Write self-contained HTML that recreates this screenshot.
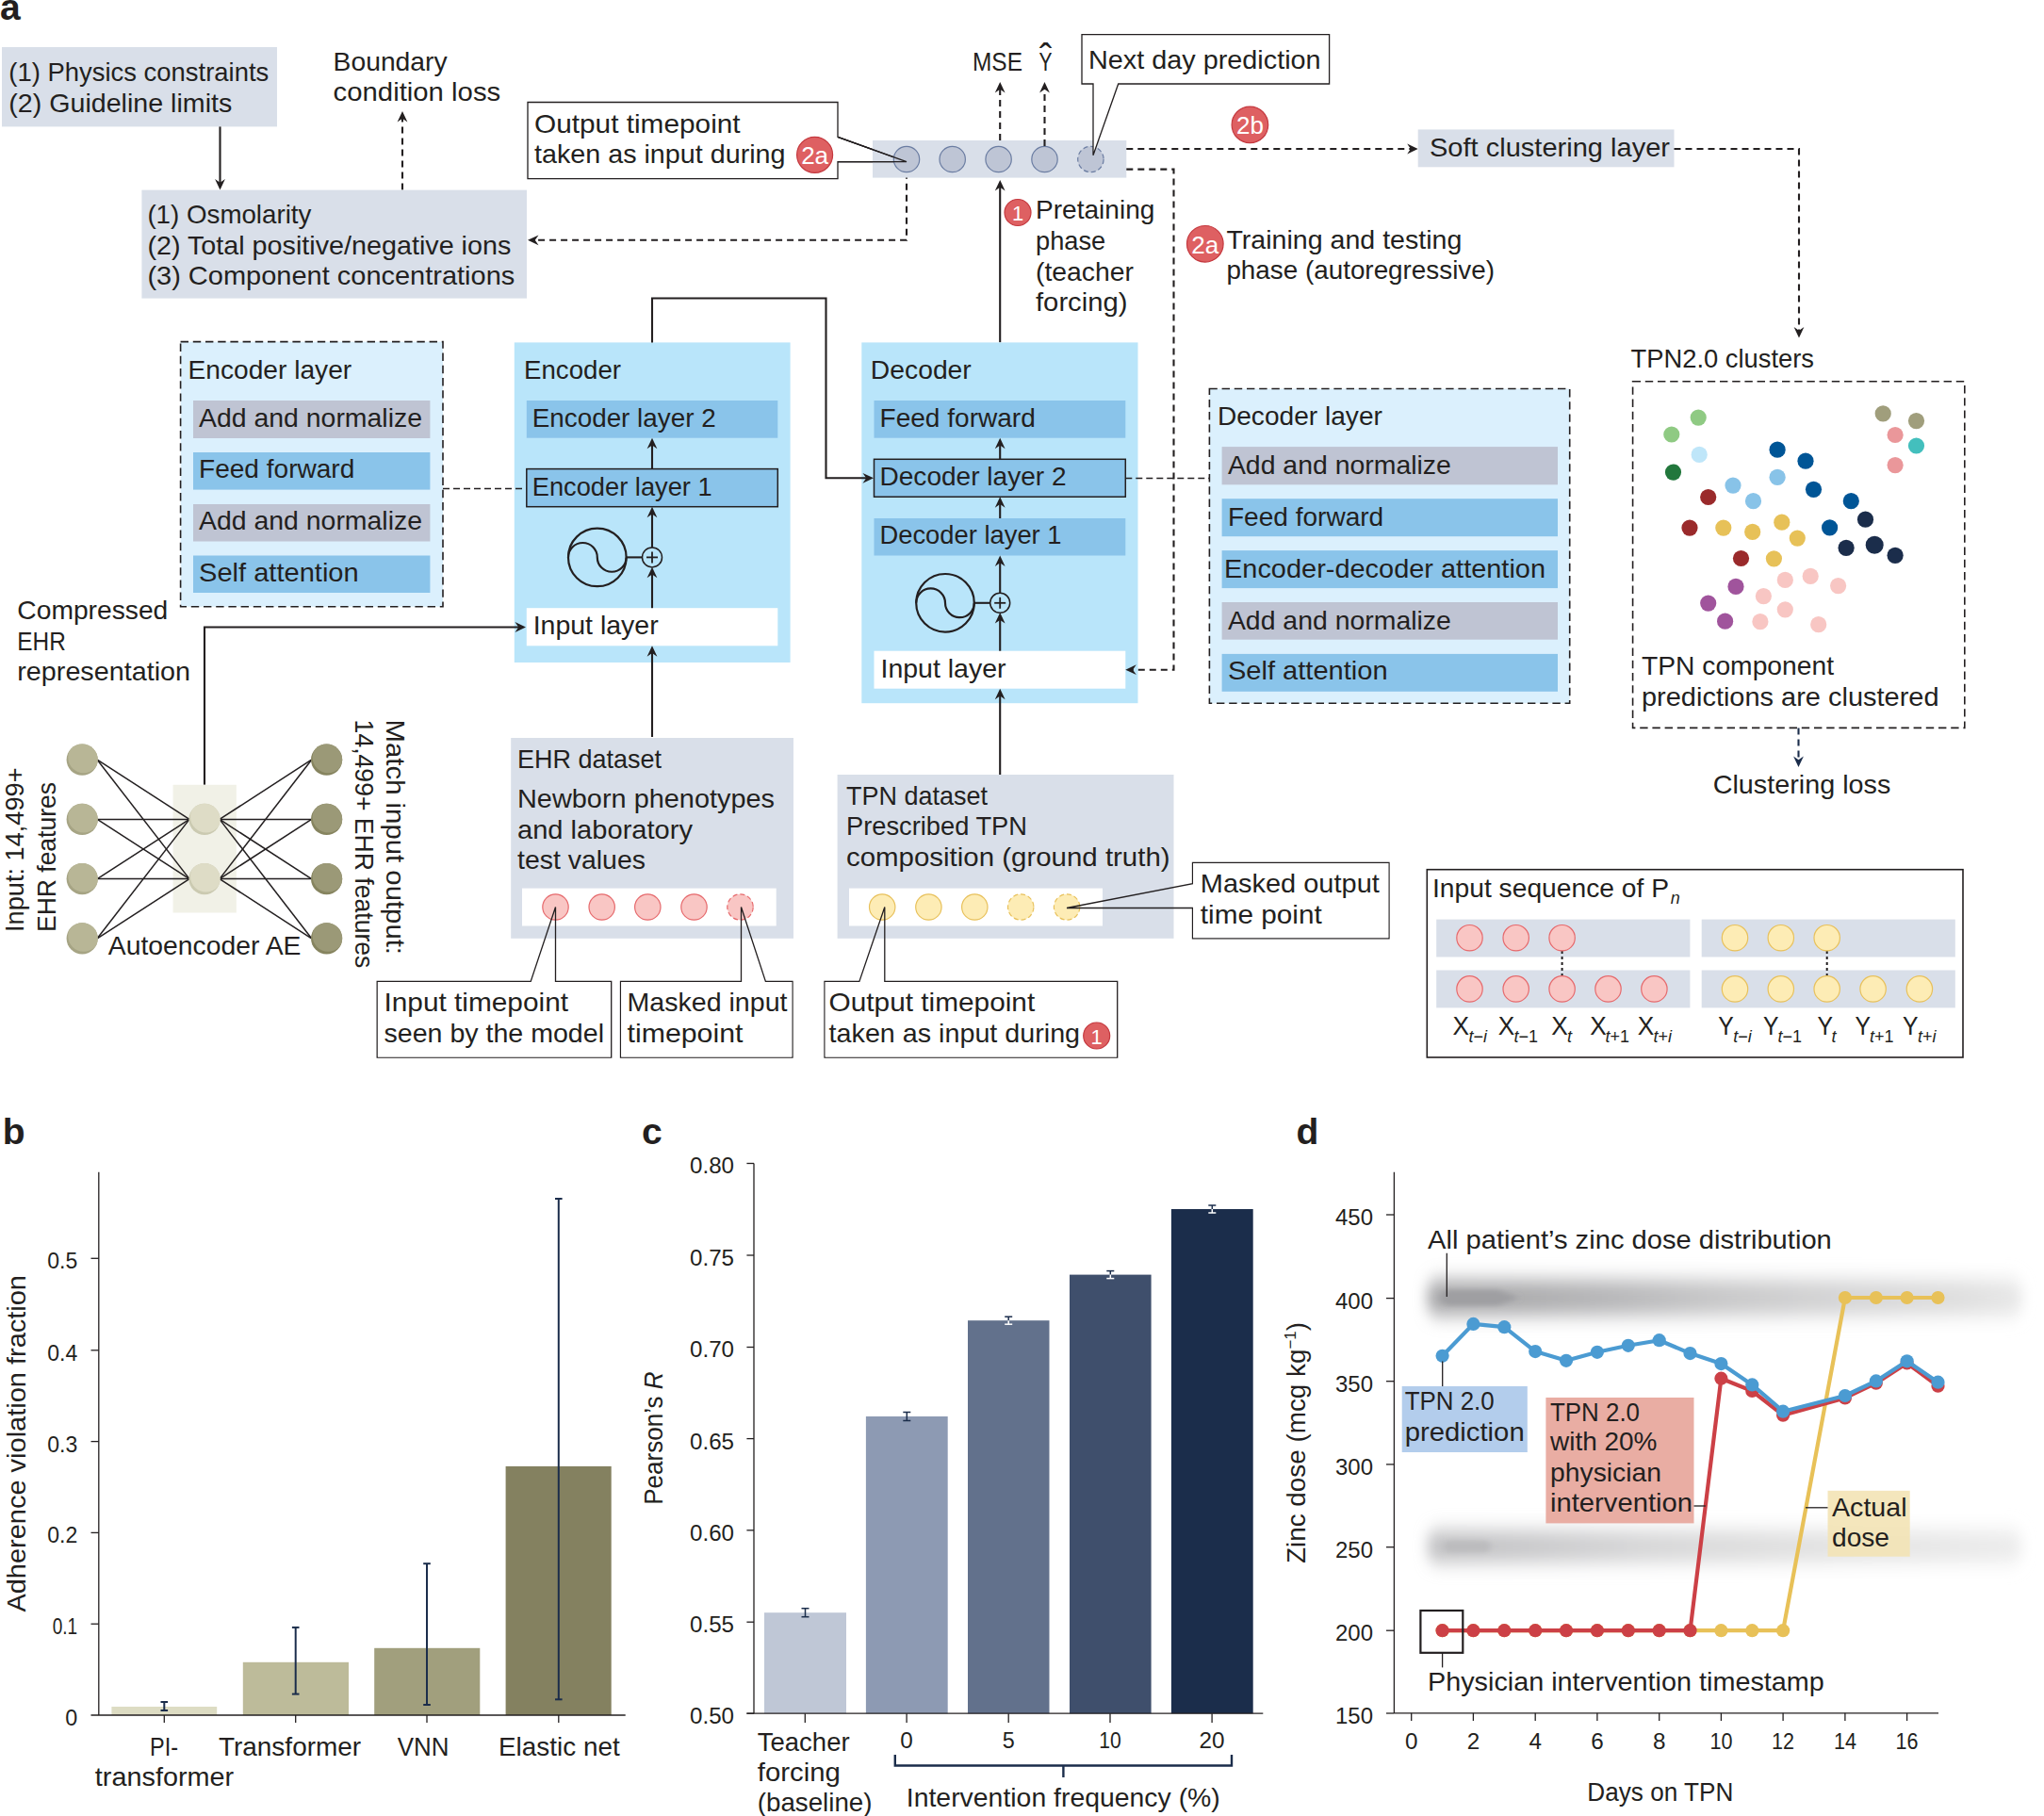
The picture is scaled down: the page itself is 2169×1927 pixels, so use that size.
<!DOCTYPE html>
<html><head><meta charset="utf-8"><title>Figure</title>
<style>
html,body{margin:0;padding:0;background:#fff;}
svg{display:block;}
text{font-family:"Liberation Sans",sans-serif;fill:#231f20;}
</style></head><body>
<svg width="2169" height="1927" viewBox="0 0 2169 1927">
<rect width="2169" height="1927" fill="#ffffff"/>
<text x="0.0" y="21.0" font-size="39" font-weight="bold" >a</text>
<rect x="2.0" y="50.0" width="292.0" height="84.4" fill="#d9dfe9" />
<text x="9.3" y="85.8" font-size="28" textLength="276.0" lengthAdjust="spacingAndGlyphs" >(1) Physics constraints</text>
<text x="9.3" y="118.8" font-size="28" textLength="237.0" lengthAdjust="spacingAndGlyphs" >(2) Guideline limits</text>
<path d="M233.5,134.4 L233.5,195.6" fill="none" stroke="#231f20" stroke-width="2.1" />
<path d="M0,0 L-11.5,-5.4 L-7.8,0 L-11.5,5.4 Z" fill="#231f20" transform="translate(233.5 201.6) rotate(90)"/>
<text x="353.6" y="74.8" font-size="28" textLength="121.0" lengthAdjust="spacingAndGlyphs" >Boundary</text>
<text x="353.6" y="106.8" font-size="28" textLength="177.6" lengthAdjust="spacingAndGlyphs" >condition loss</text>
<path d="M427.0,201.6 L427.0,124.0" fill="none" stroke="#231f20" stroke-width="2.1" stroke-dasharray="7 5" />
<path d="M0,0 L-11.5,-5.4 L-7.8,0 L-11.5,5.4 Z" fill="#231f20" transform="translate(427.0 118.0) rotate(270)"/>
<rect x="150.4" y="201.6" width="408.6" height="115.0" fill="#d9dfe9" />
<text x="156.4" y="236.8" font-size="28" textLength="174.0" lengthAdjust="spacingAndGlyphs" >(1) Osmolarity</text>
<text x="156.4" y="269.8" font-size="28" textLength="385.9" lengthAdjust="spacingAndGlyphs" >(2) Total positive/negative ions</text>
<text x="156.4" y="301.8" font-size="28" textLength="389.9" lengthAdjust="spacingAndGlyphs" >(3) Component concentrations</text>
<path d="M962.0,182.7 L962.0,254.8 L566.0,254.8" fill="none" stroke="#231f20" stroke-width="2.1" stroke-dasharray="7 5" />
<path d="M0,0 L-11.5,-5.4 L-7.8,0 L-11.5,5.4 Z" fill="#231f20" transform="translate(560.0 254.8) rotate(180)"/>
<path d="M560,108.5 H889 V145.4 L962,171.6 L889,171.6 V189.6 H560 Z" fill="#ffffff" stroke="#231f20" stroke-width="1.3"/>
<rect x="926.0" y="149.0" width="269.3" height="39.6" fill="#d9dfe9" />
<path d="M889.0,145.4 L962.0,171.6 L889.0,171.6" fill="none" stroke="#231f20" stroke-width="1.3" />
<text x="567.0" y="140.8" font-size="28" textLength="218.6" lengthAdjust="spacingAndGlyphs" >Output timepoint</text>
<text x="567.0" y="172.8" font-size="28" textLength="266.5" lengthAdjust="spacingAndGlyphs" >taken as input during</text>
<circle cx="864.6" cy="164.3" r="19.0" fill="#de6062" stroke="#c4383e" stroke-width="1.2"/>
<text x="864.6" y="174.2" font-size="26" text-anchor="middle" style="fill:#ffffff" >2a</text>
<circle cx="962.0" cy="169.0" r="13.7" fill="#bec5d5" stroke="#6b7da2" stroke-width="1.2"/>
<circle cx="1010.7" cy="169.0" r="13.7" fill="#bec5d5" stroke="#6b7da2" stroke-width="1.2"/>
<circle cx="1059.6" cy="169.0" r="13.7" fill="#bec5d5" stroke="#6b7da2" stroke-width="1.2"/>
<circle cx="1108.5" cy="169.0" r="13.7" fill="#bec5d5" stroke="#6b7da2" stroke-width="1.2"/>
<circle cx="1157.4" cy="169.0" r="13.7" fill="#bec5d5" stroke="#6b7da2" stroke-width="1.2" stroke-dasharray="5 3"/>
<path d="M889.0,145.4 L962.0,171.6 L889.0,171.6" fill="none" stroke="#231f20" stroke-width="1.3" />
<text x="1032.0" y="74.8" font-size="28" textLength="53.0" lengthAdjust="spacingAndGlyphs" >MSE</text>
<text x="1102.5" y="74.8" font-size="28" textLength="14.0" lengthAdjust="spacingAndGlyphs" >Y</text>
<text x="1109.7" y="75.2" font-size="40" text-anchor="middle" >ˆ</text>
<path d="M1061.2,149.0 L1061.2,93.0" fill="none" stroke="#231f20" stroke-width="2.1" stroke-dasharray="7 5" />
<path d="M0,0 L-11.5,-5.4 L-7.8,0 L-11.5,5.4 Z" fill="#231f20" transform="translate(1061.2 87.0) rotate(270)"/>
<path d="M1108.5,155.0 L1108.5,93.0" fill="none" stroke="#231f20" stroke-width="2.1" stroke-dasharray="7 5" />
<path d="M0,0 L-11.5,-5.4 L-7.8,0 L-11.5,5.4 Z" fill="#231f20" transform="translate(1108.5 87.0) rotate(270)"/>
<path d="M1148,36.6 H1410.6 V89 H1186.7 L1160,164.7 V89 H1148 Z" fill="#ffffff" stroke="#231f20" stroke-width="1.3"/>
<text x="1155.0" y="73.3" font-size="28" textLength="246.6" lengthAdjust="spacingAndGlyphs" >Next day prediction</text>
<circle cx="1326.4" cy="132.4" r="19.3" fill="#de6062" stroke="#c4383e" stroke-width="1.2"/>
<text x="1326.4" y="142.3" font-size="26" text-anchor="middle" style="fill:#ffffff" >2b</text>
<path d="M1195.3,158.0 L1498.7,158.0" fill="none" stroke="#231f20" stroke-width="2.1" stroke-dasharray="7 5" />
<path d="M0,0 L-11.5,-5.4 L-7.8,0 L-11.5,5.4 Z" fill="#231f20" transform="translate(1504.7 158.0) rotate(0)"/>
<rect x="1504.7" y="137.4" width="271.8" height="39.9" fill="#d9dfe9" />
<text x="1517.0" y="165.5" font-size="28" textLength="255.0" lengthAdjust="spacingAndGlyphs" >Soft clustering layer</text>
<path d="M1776.5,158.0 L1909.0,158.0 L1909.0,352.6" fill="none" stroke="#231f20" stroke-width="2.1" stroke-dasharray="7 5" />
<path d="M0,0 L-11.5,-5.4 L-7.8,0 L-11.5,5.4 Z" fill="#231f20" transform="translate(1909.0 358.6) rotate(90)"/>
<path d="M1061.2,363.3 L1061.2,197.0" fill="none" stroke="#231f20" stroke-width="2.1" />
<path d="M0,0 L-11.5,-5.4 L-7.8,0 L-11.5,5.4 Z" fill="#231f20" transform="translate(1061.2 191.0) rotate(270)"/>
<circle cx="1080.0" cy="225.5" r="14.0" fill="#de6062" stroke="#c4383e" stroke-width="1.2"/>
<text x="1080.0" y="234.0" font-size="22" text-anchor="middle" style="fill:#ffffff" >1</text>
<text x="1099.0" y="231.8" font-size="28" textLength="126.4" lengthAdjust="spacingAndGlyphs" >Pretaining</text>
<text x="1099.0" y="265.3" font-size="28" textLength="74.2" lengthAdjust="spacingAndGlyphs" >phase</text>
<text x="1099.0" y="297.5" font-size="28" textLength="104.0" lengthAdjust="spacingAndGlyphs" >(teacher</text>
<text x="1099.0" y="330.1" font-size="28" textLength="97.5" lengthAdjust="spacingAndGlyphs" >forcing)</text>
<circle cx="1278.8" cy="258.8" r="19.3" fill="#de6062" stroke="#c4383e" stroke-width="1.2"/>
<text x="1278.8" y="268.7" font-size="26" text-anchor="middle" style="fill:#ffffff" >2a</text>
<text x="1301.4" y="263.6" font-size="28" textLength="250.0" lengthAdjust="spacingAndGlyphs" >Training and testing</text>
<text x="1301.4" y="296.2" font-size="28" textLength="284.6" lengthAdjust="spacingAndGlyphs" >phase (autoregressive)</text>
<rect x="191.6" y="362.6" width="278.4" height="281.2" fill="#dbf0fd" stroke="#231f20" stroke-width="1.6" stroke-dasharray="8.4 4.8" />
<text x="199.6" y="401.8" font-size="28" textLength="173.6" lengthAdjust="spacingAndGlyphs" >Encoder layer</text>
<rect x="205.0" y="425.0" width="251.4" height="40.0" fill="#bfc4d3" />
<text x="211.0" y="452.5" font-size="28" textLength="237.0" lengthAdjust="spacingAndGlyphs" >Add and normalize</text>
<rect x="205.0" y="480.0" width="251.4" height="39.6" fill="#8ac4ea" />
<text x="211.0" y="507.3" font-size="28" textLength="165.3" lengthAdjust="spacingAndGlyphs" >Feed forward</text>
<rect x="205.0" y="535.0" width="251.4" height="39.5" fill="#bfc4d3" />
<text x="211.0" y="562.3" font-size="28" textLength="237.0" lengthAdjust="spacingAndGlyphs" >Add and normalize</text>
<rect x="205.0" y="589.5" width="251.4" height="39.5" fill="#8ac4ea" />
<text x="211.0" y="617.3" font-size="28" textLength="169.7" lengthAdjust="spacingAndGlyphs" >Self attention</text>
<rect x="545.8" y="363.4" width="292.8" height="339.6" fill="#b9e5fa" />
<text x="556.0" y="401.8" font-size="28" textLength="103.0" lengthAdjust="spacingAndGlyphs" >Encoder</text>
<path d="M470.0,518.5 L558.8,518.5" fill="none" stroke="#231f20" stroke-width="1.3" stroke-dasharray="7 4" />
<rect x="558.8" y="425.0" width="266.5" height="39.7" fill="#8ac4ea" />
<text x="564.7" y="452.5" font-size="28" textLength="195.0" lengthAdjust="spacingAndGlyphs" >Encoder layer 2</text>
<rect x="558.8" y="497.6" width="266.5" height="40.1" fill="#8ac4ea" stroke="#231f20" stroke-width="1.5" />
<text x="564.7" y="525.8" font-size="28" textLength="191.0" lengthAdjust="spacingAndGlyphs" >Encoder layer 1</text>
<rect x="558.8" y="645.2" width="266.5" height="40.1" fill="#ffffff" />
<text x="565.7" y="673.1" font-size="28" textLength="133.0" lengthAdjust="spacingAndGlyphs" >Input layer</text>
<circle cx="633.8" cy="591.4" r="30.8" fill="none" stroke="#231f20" stroke-width="2.2"/>
<path d="M603.0,591.4 A15.4,15.4 0 0 1 633.8,591.4 A15.4,15.4 0 0 0 664.6,591.4" fill="none" stroke="#231f20" stroke-width="2.2"/>
<circle cx="692.0" cy="591.4" r="10.5" fill="none" stroke="#231f20" stroke-width="1.5"/>
<path d="M686.0,591.4 L698.0,591.4" fill="none" stroke="#231f20" stroke-width="1.8" />
<path d="M692.0,585.4 L692.0,597.4" fill="none" stroke="#231f20" stroke-width="1.8" />
<path d="M664.6,591.4 L681.7,591.4" fill="none" stroke="#231f20" stroke-width="2.1" />
<path d="M692.0,782.0 L692.0,691.3" fill="none" stroke="#231f20" stroke-width="2.1" />
<path d="M0,0 L-11.5,-5.4 L-7.8,0 L-11.5,5.4 Z" fill="#231f20" transform="translate(692.0 685.3) rotate(270)"/>
<path d="M692.0,645.2 L692.0,607.7" fill="none" stroke="#231f20" stroke-width="2.1" />
<path d="M0,0 L-11.5,-5.4 L-7.8,0 L-11.5,5.4 Z" fill="#231f20" transform="translate(692.0 601.7) rotate(270)"/>
<path d="M692.0,581.1 L692.0,543.7" fill="none" stroke="#231f20" stroke-width="2.1" />
<path d="M0,0 L-11.5,-5.4 L-7.8,0 L-11.5,5.4 Z" fill="#231f20" transform="translate(692.0 537.7) rotate(270)"/>
<path d="M692.0,497.6 L692.0,470.7" fill="none" stroke="#231f20" stroke-width="2.1" />
<path d="M0,0 L-11.5,-5.4 L-7.8,0 L-11.5,5.4 Z" fill="#231f20" transform="translate(692.0 464.7) rotate(270)"/>
<rect x="914.3" y="363.4" width="293.2" height="382.8" fill="#b9e5fa" />
<text x="923.8" y="401.8" font-size="28" textLength="107.0" lengthAdjust="spacingAndGlyphs" >Decoder</text>
<rect x="927.5" y="425.0" width="266.8" height="39.7" fill="#8ac4ea" />
<text x="933.5" y="452.6" font-size="28" textLength="165.3" lengthAdjust="spacingAndGlyphs" >Feed forward</text>
<rect x="927.5" y="487.3" width="266.8" height="39.9" fill="#8ac4ea" stroke="#231f20" stroke-width="1.5" />
<text x="933.5" y="514.8" font-size="28" textLength="198.0" lengthAdjust="spacingAndGlyphs" >Decoder layer 2</text>
<rect x="927.5" y="550.0" width="266.8" height="39.5" fill="#8ac4ea" />
<text x="933.5" y="576.5" font-size="28" textLength="193.0" lengthAdjust="spacingAndGlyphs" >Decoder layer 1</text>
<rect x="927.5" y="690.7" width="266.8" height="40.0" fill="#ffffff" />
<text x="934.5" y="718.8" font-size="28" textLength="133.0" lengthAdjust="spacingAndGlyphs" >Input layer</text>
<circle cx="1003.0" cy="639.8" r="30.8" fill="none" stroke="#231f20" stroke-width="2.2"/>
<path d="M972.2,639.8 A15.4,15.4 0 0 1 1003.0,639.8 A15.4,15.4 0 0 0 1033.8,639.8" fill="none" stroke="#231f20" stroke-width="2.2"/>
<circle cx="1061.2" cy="639.8" r="10.5" fill="none" stroke="#231f20" stroke-width="1.5"/>
<path d="M1055.2,639.8 L1067.2,639.8" fill="none" stroke="#231f20" stroke-width="1.8" />
<path d="M1061.2,633.8 L1061.2,645.8" fill="none" stroke="#231f20" stroke-width="1.8" />
<path d="M1033.8,639.8 L1050.9,639.8" fill="none" stroke="#231f20" stroke-width="2.1" />
<path d="M1061.2,822.0 L1061.2,736.7" fill="none" stroke="#231f20" stroke-width="2.1" />
<path d="M0,0 L-11.5,-5.4 L-7.8,0 L-11.5,5.4 Z" fill="#231f20" transform="translate(1061.2 730.7) rotate(270)"/>
<path d="M1061.2,690.7 L1061.2,656.1" fill="none" stroke="#231f20" stroke-width="2.1" />
<path d="M0,0 L-11.5,-5.4 L-7.8,0 L-11.5,5.4 Z" fill="#231f20" transform="translate(1061.2 650.1) rotate(270)"/>
<path d="M1061.2,629.5 L1061.2,595.5" fill="none" stroke="#231f20" stroke-width="2.1" />
<path d="M0,0 L-11.5,-5.4 L-7.8,0 L-11.5,5.4 Z" fill="#231f20" transform="translate(1061.2 589.5) rotate(270)"/>
<path d="M1061.2,550.0 L1061.2,533.2" fill="none" stroke="#231f20" stroke-width="2.1" />
<path d="M0,0 L-11.5,-5.4 L-7.8,0 L-11.5,5.4 Z" fill="#231f20" transform="translate(1061.2 527.2) rotate(270)"/>
<path d="M1061.2,487.3 L1061.2,470.7" fill="none" stroke="#231f20" stroke-width="2.1" />
<path d="M0,0 L-11.5,-5.4 L-7.8,0 L-11.5,5.4 Z" fill="#231f20" transform="translate(1061.2 464.7) rotate(270)"/>
<path d="M1194.3,507.5 L1283.4,507.5" fill="none" stroke="#231f20" stroke-width="1.3" stroke-dasharray="7 4" />
<path d="M692.0,363.4 L692.0,316.5 L876.5,316.5 L876.5,507.3 L921.0,507.3" fill="none" stroke="#231f20" stroke-width="2.1" />
<path d="M0,0 L-11.5,-5.4 L-7.8,0 L-11.5,5.4 Z" fill="#231f20" transform="translate(927.0 507.3) rotate(0)"/>
<path d="M1195.3,179.6 L1245.5,179.6 L1245.5,710.7 L1200.3,710.7" fill="none" stroke="#231f20" stroke-width="2.1" stroke-dasharray="7 5" />
<path d="M0,0 L-11.5,-5.4 L-7.8,0 L-11.5,5.4 Z" fill="#231f20" transform="translate(1194.3 710.7) rotate(180)"/>
<rect x="1283.4" y="412.5" width="382.3" height="333.8" fill="#dbf0fd" stroke="#231f20" stroke-width="1.6" stroke-dasharray="8.4 4.8" />
<text x="1291.9" y="450.7" font-size="28" textLength="175.0" lengthAdjust="spacingAndGlyphs" >Decoder layer</text>
<rect x="1296.6" y="474.1" width="356.4" height="40.2" fill="#bfc4d3" />
<text x="1302.9" y="502.6" font-size="28" textLength="237.0" lengthAdjust="spacingAndGlyphs" >Add and normalize</text>
<rect x="1296.6" y="529.2" width="356.4" height="40.0" fill="#8ac4ea" />
<text x="1302.9" y="557.5" font-size="28" textLength="165.3" lengthAdjust="spacingAndGlyphs" >Feed forward</text>
<rect x="1296.6" y="584.1" width="356.4" height="40.0" fill="#8ac4ea" />
<text x="1299.0" y="612.8" font-size="28" textLength="341.0" lengthAdjust="spacingAndGlyphs" >Encoder-decoder attention</text>
<rect x="1296.6" y="639.0" width="356.4" height="39.7" fill="#bfc4d3" />
<text x="1302.9" y="667.8" font-size="28" textLength="237.0" lengthAdjust="spacingAndGlyphs" >Add and normalize</text>
<rect x="1296.6" y="693.9" width="356.4" height="39.9" fill="#8ac4ea" />
<text x="1302.9" y="721.4" font-size="28" textLength="169.7" lengthAdjust="spacingAndGlyphs" >Self attention</text>
<text x="1730.5" y="390.1" font-size="28" textLength="194.5" lengthAdjust="spacingAndGlyphs" >TPN2.0 clusters</text>
<rect x="1732.6" y="404.8" width="352.2" height="367.6" fill="none" stroke="#231f20" stroke-width="1.6" stroke-dasharray="8.4 4.8" />
<circle cx="1802.2" cy="443.1" r="8.6" fill="#8fca83"/>
<circle cx="1773.8" cy="461.0" r="8.6" fill="#8fca83"/>
<circle cx="1775.5" cy="501.1" r="8.6" fill="#22773c"/>
<circle cx="1803.2" cy="482.4" r="8.6" fill="#bfe6f9"/>
<circle cx="1839.0" cy="515.1" r="8.6" fill="#88c3e8"/>
<circle cx="1860.5" cy="531.7" r="8.6" fill="#88c3e8"/>
<circle cx="1886.1" cy="506.3" r="8.6" fill="#88c3e8"/>
<circle cx="1886.1" cy="477.2" r="8.6" fill="#005596"/>
<circle cx="1916.0" cy="489.2" r="8.6" fill="#005596"/>
<circle cx="1924.5" cy="519.3" r="8.6" fill="#005596"/>
<circle cx="1964.3" cy="531.7" r="8.6" fill="#005596"/>
<circle cx="1941.6" cy="559.9" r="8.6" fill="#005596"/>
<circle cx="1979.5" cy="551.2" r="8.6" fill="#1b2d4b"/>
<circle cx="1959.1" cy="581.3" r="8.6" fill="#1b2d4b"/>
<circle cx="1989.2" cy="578.3" r="9.5" fill="#1b2d4b"/>
<circle cx="2011.1" cy="589.3" r="8.6" fill="#1b2d4b"/>
<circle cx="1812.7" cy="527.5" r="8.6" fill="#9a2a2b"/>
<circle cx="1793.0" cy="560.1" r="8.6" fill="#9a2a2b"/>
<circle cx="1847.5" cy="592.5" r="8.6" fill="#9a2a2b"/>
<circle cx="1828.8" cy="560.1" r="8.6" fill="#e7c158"/>
<circle cx="1859.7" cy="564.4" r="8.6" fill="#e7c158"/>
<circle cx="1890.8" cy="554.2" r="8.6" fill="#e7c158"/>
<circle cx="1907.3" cy="571.1" r="8.6" fill="#e7c158"/>
<circle cx="1882.4" cy="592.8" r="8.6" fill="#e7c158"/>
<circle cx="1842.0" cy="622.4" r="8.6" fill="#a0549c"/>
<circle cx="1812.7" cy="640.1" r="8.6" fill="#a0549c"/>
<circle cx="1830.6" cy="659.2" r="8.6" fill="#a0549c"/>
<circle cx="1894.3" cy="615.4" r="8.6" fill="#f8c6c3"/>
<circle cx="1921.2" cy="611.4" r="8.6" fill="#f8c6c3"/>
<circle cx="1950.6" cy="621.6" r="8.6" fill="#f8c6c3"/>
<circle cx="1871.4" cy="632.6" r="8.6" fill="#f8c6c3"/>
<circle cx="1894.3" cy="646.8" r="8.6" fill="#f8c6c3"/>
<circle cx="1867.9" cy="659.7" r="8.6" fill="#f8c6c3"/>
<circle cx="1929.7" cy="662.7" r="8.6" fill="#f8c6c3"/>
<circle cx="1998.2" cy="438.9" r="8.6" fill="#a09e7c"/>
<circle cx="2033.5" cy="446.6" r="8.6" fill="#a09e7c"/>
<circle cx="2011.1" cy="461.5" r="8.6" fill="#ea979a"/>
<circle cx="2011.1" cy="493.6" r="8.6" fill="#ea979a"/>
<circle cx="2033.5" cy="473.0" r="8.6" fill="#43bfbd"/>
<text x="1742.0" y="715.6" font-size="28" textLength="204.0" lengthAdjust="spacingAndGlyphs" >TPN component</text>
<text x="1742.0" y="749.2" font-size="28" textLength="315.5" lengthAdjust="spacingAndGlyphs" >predictions are clustered</text>
<path d="M1908.5,772.4 L1908.5,808.0" fill="none" stroke="#1b2d4b" stroke-width="2.1" stroke-dasharray="7 5" />
<path d="M0,0 L-11.5,-5.4 L-7.8,0 L-11.5,5.4 Z" fill="#1b2d4b" transform="translate(1908.5 814.0) rotate(90)"/>
<text x="1817.7" y="842.3" font-size="28" textLength="188.6" lengthAdjust="spacingAndGlyphs" >Clustering loss</text>
<text x="18.3" y="657.3" font-size="28" textLength="160.0" lengthAdjust="spacingAndGlyphs" >Compressed</text>
<text x="18.3" y="689.8" font-size="28" textLength="51.5" lengthAdjust="spacingAndGlyphs" >EHR</text>
<text x="18.3" y="721.8" font-size="28" textLength="183.7" lengthAdjust="spacingAndGlyphs" >representation</text>
<path d="M217.0,832.8 L217.0,665.5 L552.0,665.5" fill="none" stroke="#231f20" stroke-width="2.1" />
<path d="M0,0 L-11.5,-5.4 L-7.8,0 L-11.5,5.4 Z" fill="#231f20" transform="translate(558.0 665.5) rotate(0)"/>
<rect x="183.6" y="832.8" width="67.2" height="135.7" fill="#f1f1e7" />
<path d="M103.2,806.2 L201.0,869.4" fill="none" stroke="#231f20" stroke-width="1.5" />
<path d="M233.0,869.4 L330.6,806.2" fill="none" stroke="#231f20" stroke-width="1.5" />
<path d="M103.2,806.2 L201.0,932.6" fill="none" stroke="#231f20" stroke-width="1.5" />
<path d="M233.0,932.6 L330.6,806.2" fill="none" stroke="#231f20" stroke-width="1.5" />
<path d="M103.2,869.4 L201.0,869.4" fill="none" stroke="#231f20" stroke-width="1.5" />
<path d="M233.0,869.4 L330.6,869.4" fill="none" stroke="#231f20" stroke-width="1.5" />
<path d="M103.2,869.4 L201.0,932.6" fill="none" stroke="#231f20" stroke-width="1.5" />
<path d="M233.0,932.6 L330.6,869.4" fill="none" stroke="#231f20" stroke-width="1.5" />
<path d="M103.2,932.6 L201.0,869.4" fill="none" stroke="#231f20" stroke-width="1.5" />
<path d="M233.0,869.4 L330.6,932.6" fill="none" stroke="#231f20" stroke-width="1.5" />
<path d="M103.2,932.6 L201.0,932.6" fill="none" stroke="#231f20" stroke-width="1.5" />
<path d="M233.0,932.6 L330.6,932.6" fill="none" stroke="#231f20" stroke-width="1.5" />
<path d="M103.2,995.8 L201.0,869.4" fill="none" stroke="#231f20" stroke-width="1.5" />
<path d="M233.0,869.4 L330.6,995.8" fill="none" stroke="#231f20" stroke-width="1.5" />
<path d="M103.2,995.8 L201.0,932.6" fill="none" stroke="#231f20" stroke-width="1.5" />
<path d="M233.0,932.6 L330.6,995.8" fill="none" stroke="#231f20" stroke-width="1.5" />
<clipPath id="cp87_806"><circle cx="87.2" cy="806.2" r="16.6"/></clipPath>
<circle cx="87.2" cy="806.2" r="16.6" fill="#a6a484"/>
<circle cx="88.8" cy="803.6" r="16.6" fill="#b8b696" clip-path="url(#cp87_806)"/>
<clipPath id="cp346_806"><circle cx="346.6" cy="806.2" r="16.6"/></clipPath>
<circle cx="346.6" cy="806.2" r="16.6" fill="#86845f"/>
<circle cx="348.20000000000005" cy="803.6" r="16.6" fill="#9b9977" clip-path="url(#cp346_806)"/>
<clipPath id="cp87_869"><circle cx="87.2" cy="869.4" r="16.6"/></clipPath>
<circle cx="87.2" cy="869.4" r="16.6" fill="#a6a484"/>
<circle cx="88.8" cy="866.8" r="16.6" fill="#b8b696" clip-path="url(#cp87_869)"/>
<clipPath id="cp346_869"><circle cx="346.6" cy="869.4" r="16.6"/></clipPath>
<circle cx="346.6" cy="869.4" r="16.6" fill="#86845f"/>
<circle cx="348.20000000000005" cy="866.8" r="16.6" fill="#9b9977" clip-path="url(#cp346_869)"/>
<clipPath id="cp87_932"><circle cx="87.2" cy="932.6" r="16.6"/></clipPath>
<circle cx="87.2" cy="932.6" r="16.6" fill="#a6a484"/>
<circle cx="88.8" cy="930.0" r="16.6" fill="#b8b696" clip-path="url(#cp87_932)"/>
<clipPath id="cp346_932"><circle cx="346.6" cy="932.6" r="16.6"/></clipPath>
<circle cx="346.6" cy="932.6" r="16.6" fill="#86845f"/>
<circle cx="348.20000000000005" cy="930.0" r="16.6" fill="#9b9977" clip-path="url(#cp346_932)"/>
<clipPath id="cp87_995"><circle cx="87.2" cy="995.8" r="16.6"/></clipPath>
<circle cx="87.2" cy="995.8" r="16.6" fill="#a6a484"/>
<circle cx="88.8" cy="993.1999999999999" r="16.6" fill="#b8b696" clip-path="url(#cp87_995)"/>
<clipPath id="cp346_995"><circle cx="346.6" cy="995.8" r="16.6"/></clipPath>
<circle cx="346.6" cy="995.8" r="16.6" fill="#86845f"/>
<circle cx="348.20000000000005" cy="993.1999999999999" r="16.6" fill="#9b9977" clip-path="url(#cp346_995)"/>
<clipPath id="cp217_869"><circle cx="217" cy="869.4" r="16.6"/></clipPath>
<circle cx="217.0" cy="869.4" r="16.6" fill="#cbcab1"/>
<circle cx="218.6" cy="866.8" r="16.6" fill="#dedcc6" clip-path="url(#cp217_869)"/>
<clipPath id="cp217_932"><circle cx="217" cy="932.6" r="16.6"/></clipPath>
<circle cx="217.0" cy="932.6" r="16.6" fill="#cbcab1"/>
<circle cx="218.6" cy="930.0" r="16.6" fill="#dedcc6" clip-path="url(#cp217_932)"/>
<text x="114.8" y="1013.4" font-size="28" textLength="204.6" lengthAdjust="spacingAndGlyphs" >Autoencoder AE</text>
<text x="25.3" y="989.0" font-size="28" textLength="174.5" lengthAdjust="spacingAndGlyphs" transform="rotate(-90 25.3 989.0)" >Input: 14,499+</text>
<text x="59.2" y="989.0" font-size="28" textLength="159.0" lengthAdjust="spacingAndGlyphs" transform="rotate(-90 59.2 989.0)" >EHR features</text>
<text x="409.5" y="763.6" font-size="28" textLength="249.4" lengthAdjust="spacingAndGlyphs" transform="rotate(90 409.5 763.6)" >Match input output:</text>
<text x="377.0" y="763.6" font-size="28" textLength="263.8" lengthAdjust="spacingAndGlyphs" transform="rotate(90 377.0 763.6)" >14,499+ EHR features</text>
<rect x="542.2" y="783.0" width="299.8" height="212.8" fill="#d9dfe9" />
<text x="549.0" y="815.3" font-size="28" textLength="153.0" lengthAdjust="spacingAndGlyphs" >EHR dataset</text>
<text x="549.0" y="856.8" font-size="28" textLength="273.0" lengthAdjust="spacingAndGlyphs" >Newborn phenotypes</text>
<text x="549.0" y="889.5" font-size="28" textLength="186.0" lengthAdjust="spacingAndGlyphs" >and laboratory</text>
<text x="549.0" y="921.8" font-size="28" textLength="136.0" lengthAdjust="spacingAndGlyphs" >test values</text>
<rect x="554.0" y="942.6" width="269.7" height="39.9" fill="#ffffff" />
<circle cx="589.5" cy="962.5" r="13.7" fill="#f9c6c4" stroke="#e66a6d" stroke-width="1.2"/>
<circle cx="638.7" cy="962.5" r="13.7" fill="#f9c6c4" stroke="#e66a6d" stroke-width="1.2"/>
<circle cx="687.3" cy="962.5" r="13.7" fill="#f9c6c4" stroke="#e66a6d" stroke-width="1.2"/>
<circle cx="736.5" cy="962.5" r="13.7" fill="#f9c6c4" stroke="#e66a6d" stroke-width="1.2"/>
<circle cx="785.5" cy="962.5" r="13.7" fill="#f9c6c4" stroke="#e66a6d" stroke-width="1.2" stroke-dasharray="5 3"/>
<path d="M400.2,1041.4 H563.2 L589.5,962.5 V1041.4 H648.7 V1122.2 H400.2 Z" fill="#ffffff" fill-opacity="0" stroke="#231f20" stroke-width="1.3"/>
<rect x="400.9" y="1042.1" width="247.1" height="79.4" fill="#ffffff" />
<text x="407.5" y="1073.1" font-size="28" textLength="195.5" lengthAdjust="spacingAndGlyphs" >Input timepoint</text>
<text x="407.5" y="1105.8" font-size="28" textLength="233.5" lengthAdjust="spacingAndGlyphs" >seen by the model</text>
<path d="M658.5,1041.4 H786.5 V962.5 L812.4,1041.4 H841 V1122.2 H658.5 Z" fill="none" stroke="#231f20" stroke-width="1.3"/>
<rect x="659.2" y="1042.1" width="181.1" height="79.4" fill="#ffffff" />
<text x="665.5" y="1073.1" font-size="28" textLength="170.0" lengthAdjust="spacingAndGlyphs" >Masked input</text>
<text x="665.5" y="1105.8" font-size="28" textLength="123.0" lengthAdjust="spacingAndGlyphs" >timepoint</text>
<rect x="888.6" y="822.0" width="356.9" height="173.8" fill="#d9dfe9" />
<text x="898.0" y="854.2" font-size="28" textLength="150.0" lengthAdjust="spacingAndGlyphs" >TPN dataset</text>
<text x="898.0" y="886.1" font-size="28" textLength="192.0" lengthAdjust="spacingAndGlyphs" >Prescribed TPN</text>
<text x="898.0" y="919.4" font-size="28" textLength="343.6" lengthAdjust="spacingAndGlyphs" >composition (ground truth)</text>
<rect x="901.0" y="942.6" width="269.0" height="39.9" fill="#ffffff" />
<circle cx="936.2" cy="962.5" r="13.7" fill="#fdecb5" stroke="#e8c15c" stroke-width="1.2"/>
<circle cx="985.4" cy="962.5" r="13.7" fill="#fdecb5" stroke="#e8c15c" stroke-width="1.2"/>
<circle cx="1034.3" cy="962.5" r="13.7" fill="#fdecb5" stroke="#e8c15c" stroke-width="1.2"/>
<circle cx="1083.2" cy="962.5" r="13.7" fill="#fdecb5" stroke="#e8c15c" stroke-width="1.2" stroke-dasharray="5 3"/>
<circle cx="1132.1" cy="962.5" r="13.7" fill="#fdecb5" stroke="#e8c15c" stroke-width="1.2" stroke-dasharray="5 3"/>
<path d="M875,1041.4 H911.9 L938.8,962.5 V1041.4 H1185.7 V1122.2 H875 Z" fill="none" stroke="#231f20" stroke-width="1.3"/>
<rect x="875.7" y="1042.1" width="309.3" height="79.4" fill="#ffffff" />
<text x="879.6" y="1073.1" font-size="28" textLength="218.6" lengthAdjust="spacingAndGlyphs" >Output timepoint</text>
<text x="879.6" y="1105.8" font-size="28" textLength="266.5" lengthAdjust="spacingAndGlyphs" >taken as input during</text>
<circle cx="1163.7" cy="1099.0" r="14.0" fill="#de6062" stroke="#c4383e" stroke-width="1.2"/>
<text x="1163.7" y="1107.5" font-size="22" text-anchor="middle" style="fill:#ffffff" >1</text>
<path d="M1265.5,915.3 H1474 V995.8 H1265.5 V963.5 H1132 L1265.5,937.6 Z" fill="none" stroke="#231f20" stroke-width="1.3"/>
<rect x="1266.2" y="916.0" width="207.1" height="79.1" fill="#ffffff" />
<text x="1273.8" y="947.4" font-size="28" textLength="190.0" lengthAdjust="spacingAndGlyphs" >Masked output</text>
<text x="1273.8" y="979.8" font-size="28" textLength="129.0" lengthAdjust="spacingAndGlyphs" >time point</text>
<rect x="1514.3" y="922.7" width="568.7" height="199.3" fill="#ffffff" stroke="#231f20" stroke-width="1.6" />
<text x="1520.0" y="952.1" font-size="28" textLength="251.0" lengthAdjust="spacingAndGlyphs" >Input sequence of P</text>
<text x="1772.7" y="959.4" font-size="18" font-style="italic" >n</text>
<rect x="1524.2" y="975.6" width="269.2" height="39.9" fill="#d9dfe9" />
<rect x="1524.2" y="1029.5" width="269.2" height="39.9" fill="#d9dfe9" />
<rect x="1805.7" y="975.6" width="269.1" height="39.9" fill="#d9dfe9" />
<rect x="1805.7" y="1029.5" width="269.1" height="39.9" fill="#d9dfe9" />
<path d="M1657.6,1009.0 L1657.6,1036.0" fill="none" stroke="#231f20" stroke-width="2" stroke-dasharray="3 3" />
<path d="M1938.7,1009.0 L1938.7,1036.0" fill="none" stroke="#231f20" stroke-width="2" stroke-dasharray="3 3" />
<circle cx="1559.5" cy="995.2" r="13.7" fill="#f9c6c4" stroke="#e66a6d" stroke-width="1.2"/>
<circle cx="1559.5" cy="1049.4" r="13.7" fill="#f9c6c4" stroke="#e66a6d" stroke-width="1.2"/>
<circle cx="1608.7" cy="995.2" r="13.7" fill="#f9c6c4" stroke="#e66a6d" stroke-width="1.2"/>
<circle cx="1608.7" cy="1049.4" r="13.7" fill="#f9c6c4" stroke="#e66a6d" stroke-width="1.2"/>
<circle cx="1657.6" cy="995.2" r="13.7" fill="#f9c6c4" stroke="#e66a6d" stroke-width="1.2"/>
<circle cx="1657.6" cy="1049.4" r="13.7" fill="#f9c6c4" stroke="#e66a6d" stroke-width="1.2"/>
<circle cx="1706.5" cy="1049.4" r="13.7" fill="#f9c6c4" stroke="#e66a6d" stroke-width="1.2"/>
<circle cx="1755.4" cy="1049.4" r="13.7" fill="#f9c6c4" stroke="#e66a6d" stroke-width="1.2"/>
<circle cx="1841.0" cy="995.2" r="13.7" fill="#fdecb5" stroke="#e8c15c" stroke-width="1.2"/>
<circle cx="1841.0" cy="1049.4" r="13.7" fill="#fdecb5" stroke="#e8c15c" stroke-width="1.2"/>
<circle cx="1889.8" cy="995.2" r="13.7" fill="#fdecb5" stroke="#e8c15c" stroke-width="1.2"/>
<circle cx="1889.8" cy="1049.4" r="13.7" fill="#fdecb5" stroke="#e8c15c" stroke-width="1.2"/>
<circle cx="1938.7" cy="995.2" r="13.7" fill="#fdecb5" stroke="#e8c15c" stroke-width="1.2"/>
<circle cx="1938.7" cy="1049.4" r="13.7" fill="#fdecb5" stroke="#e8c15c" stroke-width="1.2"/>
<circle cx="1987.6" cy="1049.4" r="13.7" fill="#fdecb5" stroke="#e8c15c" stroke-width="1.2"/>
<circle cx="2036.9" cy="1049.4" r="13.7" fill="#fdecb5" stroke="#e8c15c" stroke-width="1.2"/>
<text x="1541.5" y="1097.5" font-size="28" textLength="17.5" lengthAdjust="spacingAndGlyphs" >X</text>
<text x="1558.5" y="1106.1" font-size="18" ><tspan font-style="italic">t</tspan>−<tspan font-style="italic">i</tspan></text>
<text x="1823.3" y="1097.5" font-size="28" textLength="16.5" lengthAdjust="spacingAndGlyphs" >Y</text>
<text x="1839.3" y="1106.1" font-size="18" ><tspan font-style="italic">t</tspan>−<tspan font-style="italic">i</tspan></text>
<text x="1589.8" y="1097.5" font-size="28" textLength="17.5" lengthAdjust="spacingAndGlyphs" >X</text>
<text x="1606.4" y="1106.1" font-size="18" ><tspan font-style="italic">t</tspan>−1</text>
<text x="1870.9" y="1097.5" font-size="28" textLength="16.5" lengthAdjust="spacingAndGlyphs" >Y</text>
<text x="1886.5" y="1106.1" font-size="18" ><tspan font-style="italic">t</tspan>−1</text>
<text x="1646.3" y="1097.5" font-size="28" textLength="17.5" lengthAdjust="spacingAndGlyphs" >X</text>
<text x="1663.0" y="1106.1" font-size="18" ><tspan font-style="italic">t</tspan></text>
<text x="1928.4" y="1097.5" font-size="28" textLength="16.5" lengthAdjust="spacingAndGlyphs" >Y</text>
<text x="1943.4" y="1106.1" font-size="18" ><tspan font-style="italic">t</tspan></text>
<text x="1687.3" y="1097.5" font-size="28" textLength="17.5" lengthAdjust="spacingAndGlyphs" >X</text>
<text x="1703.5" y="1106.1" font-size="18" ><tspan font-style="italic">t</tspan>+1</text>
<text x="1968.4" y="1097.5" font-size="28" textLength="16.5" lengthAdjust="spacingAndGlyphs" >Y</text>
<text x="1984.0" y="1106.1" font-size="18" ><tspan font-style="italic">t</tspan>+1</text>
<text x="1737.8" y="1097.5" font-size="28" textLength="17.5" lengthAdjust="spacingAndGlyphs" >X</text>
<text x="1754.4" y="1106.1" font-size="18" ><tspan font-style="italic">t</tspan>+<tspan font-style="italic">i</tspan></text>
<text x="2019.0" y="1097.5" font-size="28" textLength="16.5" lengthAdjust="spacingAndGlyphs" >Y</text>
<text x="2034.9" y="1106.1" font-size="18" ><tspan font-style="italic">t</tspan>+<tspan font-style="italic">i</tspan></text>
<text x="2.7" y="1214.0" font-size="39" font-weight="bold" >b</text>
<rect x="118.4" y="1811.0" width="111.8" height="9.0" fill="#dddcc3" />
<rect x="257.8" y="1763.8" width="112.2" height="56.2" fill="#bdbb9a" />
<rect x="397.2" y="1748.8" width="112.1" height="71.2" fill="#a19f7d" />
<rect x="536.6" y="1555.9" width="112.1" height="264.1" fill="#848160" />
<path d="M174.3,1806.0 L174.3,1815.0" fill="none" stroke="#1b2d4b" stroke-width="2" />
<path d="M170.5,1806.0 L178.1,1806.0" fill="none" stroke="#1b2d4b" stroke-width="2" />
<path d="M170.5,1815.0 L178.1,1815.0" fill="none" stroke="#1b2d4b" stroke-width="2" />
<path d="M313.7,1726.9 L313.7,1797.6" fill="none" stroke="#1b2d4b" stroke-width="2" />
<path d="M309.9,1726.9 L317.5,1726.9" fill="none" stroke="#1b2d4b" stroke-width="2" />
<path d="M309.9,1797.6 L317.5,1797.6" fill="none" stroke="#1b2d4b" stroke-width="2" />
<path d="M453.0,1659.2 L453.0,1809.0" fill="none" stroke="#1b2d4b" stroke-width="2" />
<path d="M449.2,1659.2 L456.8,1659.2" fill="none" stroke="#1b2d4b" stroke-width="2" />
<path d="M449.2,1809.0 L456.8,1809.0" fill="none" stroke="#1b2d4b" stroke-width="2" />
<path d="M592.8,1272.0 L592.8,1803.3" fill="none" stroke="#1b2d4b" stroke-width="2" />
<path d="M589.0,1272.0 L596.6,1272.0" fill="none" stroke="#1b2d4b" stroke-width="2" />
<path d="M589.0,1803.3 L596.6,1803.3" fill="none" stroke="#1b2d4b" stroke-width="2" />
<path d="M104.8,1243.8 L104.8,1820.0" fill="none" stroke="#231f20" stroke-width="1.3" />
<path d="M96.5,1820.0 L663.7,1820.0" fill="none" stroke="#231f20" stroke-width="1.3" />
<path d="M96.5,1335.3 L104.8,1335.3" fill="none" stroke="#231f20" stroke-width="1.3" />
<text x="82.2" y="1346.2" font-size="23" text-anchor="end" textLength="32.0" lengthAdjust="spacingAndGlyphs" >0.5</text>
<path d="M96.5,1432.8 L104.8,1432.8" fill="none" stroke="#231f20" stroke-width="1.3" />
<text x="82.2" y="1443.7" font-size="23" text-anchor="end" textLength="32.0" lengthAdjust="spacingAndGlyphs" >0.4</text>
<path d="M96.5,1529.6 L104.8,1529.6" fill="none" stroke="#231f20" stroke-width="1.3" />
<text x="82.2" y="1540.5" font-size="23" text-anchor="end" textLength="32.0" lengthAdjust="spacingAndGlyphs" >0.3</text>
<path d="M96.5,1626.4 L104.8,1626.4" fill="none" stroke="#231f20" stroke-width="1.3" />
<text x="82.2" y="1637.3" font-size="23" text-anchor="end" textLength="32.0" lengthAdjust="spacingAndGlyphs" >0.2</text>
<path d="M96.5,1723.2 L104.8,1723.2" fill="none" stroke="#231f20" stroke-width="1.3" />
<text x="82.2" y="1734.1" font-size="23" text-anchor="end" textLength="26.5" lengthAdjust="spacingAndGlyphs" >0.1</text>
<text x="82.2" y="1830.9" font-size="23" text-anchor="end" textLength="13.0" lengthAdjust="spacingAndGlyphs" >0</text>
<path d="M174.3,1820.0 L174.3,1828.0" fill="none" stroke="#231f20" stroke-width="1.3" />
<path d="M313.7,1820.0 L313.7,1828.0" fill="none" stroke="#231f20" stroke-width="1.3" />
<path d="M453.0,1820.0 L453.0,1828.0" fill="none" stroke="#231f20" stroke-width="1.3" />
<path d="M592.8,1820.0 L592.8,1828.0" fill="none" stroke="#231f20" stroke-width="1.3" />
<text x="26.6" y="1710.6" font-size="28" textLength="357.6" lengthAdjust="spacingAndGlyphs" transform="rotate(-90 26.6 1710.6)" >Adherence violation fraction</text>
<text x="159.0" y="1862.8" font-size="28" textLength="30.0" lengthAdjust="spacingAndGlyphs" >PI-</text>
<text x="100.8" y="1895.4" font-size="28" textLength="147.4" lengthAdjust="spacingAndGlyphs" >transformer</text>
<text x="231.9" y="1862.8" font-size="28" textLength="151.3" lengthAdjust="spacingAndGlyphs" >Transformer</text>
<text x="421.8" y="1862.8" font-size="28" textLength="54.6" lengthAdjust="spacingAndGlyphs" >VNN</text>
<text x="529.0" y="1862.8" font-size="28" textLength="128.7" lengthAdjust="spacingAndGlyphs" >Elastic net</text>
<text x="681.0" y="1214.0" font-size="39" font-weight="bold" >c</text>
<rect x="811.0" y="1711.2" width="87.0" height="107.0" fill="#bfc7d6" />
<path d="M854.5,1706.7 L854.5,1715.7" fill="none" stroke="#1b2d4b" stroke-width="1.5" />
<path d="M850.5,1706.7 L858.5,1706.7" fill="none" stroke="#1b2d4b" stroke-width="1.5" />
<path d="M850.5,1715.7 L858.5,1715.7" fill="none" stroke="#1b2d4b" stroke-width="1.5" />
<rect x="918.9" y="1503.0" width="86.8" height="315.2" fill="#8d9ab3" />
<path d="M962.3,1498.5 L962.3,1507.5" fill="none" stroke="#1b2d4b" stroke-width="1.5" />
<path d="M958.3,1498.5 L966.3,1498.5" fill="none" stroke="#1b2d4b" stroke-width="1.5" />
<path d="M958.3,1507.5 L966.3,1507.5" fill="none" stroke="#1b2d4b" stroke-width="1.5" />
<rect x="1027.0" y="1401.2" width="86.5" height="417.0" fill="#62718c" />
<path d="M1070.2,1397.2 L1070.2,1401.2" fill="none" stroke="#1b2d4b" stroke-width="1.5" />
<path d="M1066.2,1397.2 L1074.2,1397.2" fill="none" stroke="#1b2d4b" stroke-width="1.5" />
<path d="M1070.2,1401.2 L1070.2,1405.2" fill="none" stroke="#ffffff" stroke-width="1.5" />
<path d="M1066.2,1405.2 L1074.2,1405.2" fill="none" stroke="#ffffff" stroke-width="1.5" />
<rect x="1135.0" y="1352.6" width="86.6" height="465.6" fill="#3f4f6c" />
<path d="M1178.3,1348.6 L1178.3,1352.6" fill="none" stroke="#1b2d4b" stroke-width="1.5" />
<path d="M1174.3,1348.6 L1182.3,1348.6" fill="none" stroke="#1b2d4b" stroke-width="1.5" />
<path d="M1178.3,1352.6 L1178.3,1356.6" fill="none" stroke="#ffffff" stroke-width="1.5" />
<path d="M1174.3,1356.6 L1182.3,1356.6" fill="none" stroke="#ffffff" stroke-width="1.5" />
<rect x="1242.9" y="1283.0" width="86.8" height="535.2" fill="#1b2d4b" />
<path d="M1286.3,1279.0 L1286.3,1283.0" fill="none" stroke="#1b2d4b" stroke-width="1.5" />
<path d="M1282.3,1279.0 L1290.3,1279.0" fill="none" stroke="#1b2d4b" stroke-width="1.5" />
<path d="M1286.3,1283.0 L1286.3,1287.0" fill="none" stroke="#ffffff" stroke-width="1.5" />
<path d="M1282.3,1287.0 L1290.3,1287.0" fill="none" stroke="#ffffff" stroke-width="1.5" />
<path d="M800.0,1234.5 L800.0,1818.2" fill="none" stroke="#231f20" stroke-width="1.3" />
<path d="M792.4,1818.2 L1340.3,1818.2" fill="none" stroke="#231f20" stroke-width="1.3" />
<path d="M792.4,1234.5 L800.0,1234.5" fill="none" stroke="#231f20" stroke-width="1.3" />
<text x="779.0" y="1245.4" font-size="23" text-anchor="end" textLength="47.0" lengthAdjust="spacingAndGlyphs" >0.80</text>
<path d="M792.4,1332.0 L800.0,1332.0" fill="none" stroke="#231f20" stroke-width="1.3" />
<text x="779.0" y="1342.9" font-size="23" text-anchor="end" textLength="47.0" lengthAdjust="spacingAndGlyphs" >0.75</text>
<path d="M792.4,1429.5 L800.0,1429.5" fill="none" stroke="#231f20" stroke-width="1.3" />
<text x="779.0" y="1440.4" font-size="23" text-anchor="end" textLength="47.0" lengthAdjust="spacingAndGlyphs" >0.70</text>
<path d="M792.4,1526.6 L800.0,1526.6" fill="none" stroke="#231f20" stroke-width="1.3" />
<text x="779.0" y="1537.5" font-size="23" text-anchor="end" textLength="47.0" lengthAdjust="spacingAndGlyphs" >0.65</text>
<path d="M792.4,1623.8 L800.0,1623.8" fill="none" stroke="#231f20" stroke-width="1.3" />
<text x="779.0" y="1634.7" font-size="23" text-anchor="end" textLength="47.0" lengthAdjust="spacingAndGlyphs" >0.60</text>
<path d="M792.4,1721.2 L800.0,1721.2" fill="none" stroke="#231f20" stroke-width="1.3" />
<text x="779.0" y="1732.1" font-size="23" text-anchor="end" textLength="47.0" lengthAdjust="spacingAndGlyphs" >0.55</text>
<path d="M792.4,1818.2 L800.0,1818.2" fill="none" stroke="#231f20" stroke-width="1.3" />
<text x="779.0" y="1829.1" font-size="23" text-anchor="end" textLength="47.0" lengthAdjust="spacingAndGlyphs" >0.50</text>
<path d="M854.3,1818.2 L854.3,1828.0" fill="none" stroke="#231f20" stroke-width="1.3" />
<path d="M962.1,1818.2 L962.1,1828.0" fill="none" stroke="#231f20" stroke-width="1.3" />
<path d="M1070.2,1818.2 L1070.2,1828.0" fill="none" stroke="#231f20" stroke-width="1.3" />
<path d="M1178.0,1818.2 L1178.0,1828.0" fill="none" stroke="#231f20" stroke-width="1.3" />
<path d="M1286.1,1818.2 L1286.1,1828.0" fill="none" stroke="#231f20" stroke-width="1.3" />
<text x="702.6" y="1596.8" font-size="28" transform="rotate(-90 702.6 1596.8)" textLength="141.4" lengthAdjust="spacingAndGlyphs">Pearson’s <tspan font-style="italic">R</tspan></text>
<text x="803.8" y="1858.0" font-size="28" textLength="97.8" lengthAdjust="spacingAndGlyphs" >Teacher</text>
<text x="803.8" y="1890.4" font-size="28" textLength="88.0" lengthAdjust="spacingAndGlyphs" >forcing</text>
<text x="803.8" y="1922.0" font-size="28" textLength="121.7" lengthAdjust="spacingAndGlyphs" >(baseline)</text>
<text x="962.1" y="1854.8" font-size="23" text-anchor="middle" textLength="13.5" lengthAdjust="spacingAndGlyphs" >0</text>
<text x="1070.2" y="1854.8" font-size="23" text-anchor="middle" textLength="13.0" lengthAdjust="spacingAndGlyphs" >5</text>
<text x="1178.0" y="1854.8" font-size="23" text-anchor="middle" textLength="23.5" lengthAdjust="spacingAndGlyphs" >10</text>
<text x="1286.1" y="1854.8" font-size="23" text-anchor="middle" textLength="27.0" lengthAdjust="spacingAndGlyphs" >20</text>
<path d="M949.8,1862.0 L949.8,1873.5 L1307.0,1873.5 L1307.0,1862.0" fill="none" stroke="#1b2d4b" stroke-width="2.4" />
<path d="M1128.4,1873.5 L1128.4,1886.0" fill="none" stroke="#1b2d4b" stroke-width="2.4" />
<text x="961.8" y="1917.4" font-size="28" textLength="333.0" lengthAdjust="spacingAndGlyphs" >Intervention frequency (%)</text>
<text x="1375.6" y="1214.0" font-size="39" font-weight="bold" >d</text>
<defs>
<linearGradient id="g400" gradientUnits="userSpaceOnUse" x1="1514" x2="2146" y1="0" y2="0">
<stop offset="0" stop-color="#a8a8aa"/><stop offset="0.17" stop-color="#adadaf"/><stop offset="0.33" stop-color="#b8b8ba"/><stop offset="0.5" stop-color="#c8c8c9"/><stop offset="0.69" stop-color="#d4d4d5"/><stop offset="0.9" stop-color="#dfdfdf"/><stop offset="1" stop-color="#e8e8e8"/>
</linearGradient>
<linearGradient id="g250" gradientUnits="userSpaceOnUse" x1="1514" x2="2146" y1="0" y2="0">
<stop offset="0" stop-color="#c0c0c2"/><stop offset="0.17" stop-color="#c8c8ca"/><stop offset="0.37" stop-color="#d6d6d7"/><stop offset="0.61" stop-color="#e0e0e0"/><stop offset="1" stop-color="#ececec"/>
</linearGradient>
<filter id="blur" filterUnits="userSpaceOnUse" x="1480" y="1300" width="689" height="420"><feGaussianBlur stdDeviation="7 10"/></filter>
<filter id="blur2" filterUnits="userSpaceOnUse" x="1480" y="1300" width="689" height="420"><feGaussianBlur stdDeviation="3 2.5"/></filter>
</defs>
<rect x="1514" y="1358" width="632" height="38" rx="14" fill="url(#g400)" filter="url(#blur)"/>
<path d="M1529,1377 Q1529,1369 1540,1369 H1590 L1612,1377 L1590,1385 H1540 Q1529,1385 1529,1377 Z" fill="#9f9fa2" filter="url(#blur2)"/>
<rect x="1514" y="1624" width="632" height="34" rx="14" fill="url(#g250)" filter="url(#blur)"/>
<rect x="1532" y="1635" width="50" height="12" rx="6" fill="#bcbcbe" filter="url(#blur2)"/>
<path d="M1530.6,1730.2 L1563.4,1730.2 L1596.3,1730.2 L1629.2,1730.2 L1662.0,1730.2 L1694.9,1730.2 L1727.8,1730.2 L1760.7,1730.2 L1793.5,1730.2 L1826.4,1730.2 L1859.3,1730.2 L1892.1,1730.2 L1957.9,1377.0 L1990.8,1377.0 L2023.6,1377.0 L2056.5,1377.0" fill="none" stroke="#e8c158" stroke-width="4.2" stroke-linejoin="round"/>
<circle cx="1530.6" cy="1730.2" r="7.1" fill="#e8c158"/>
<circle cx="1563.4" cy="1730.2" r="7.1" fill="#e8c158"/>
<circle cx="1596.3" cy="1730.2" r="7.1" fill="#e8c158"/>
<circle cx="1629.2" cy="1730.2" r="7.1" fill="#e8c158"/>
<circle cx="1662.0" cy="1730.2" r="7.1" fill="#e8c158"/>
<circle cx="1694.9" cy="1730.2" r="7.1" fill="#e8c158"/>
<circle cx="1727.8" cy="1730.2" r="7.1" fill="#e8c158"/>
<circle cx="1760.7" cy="1730.2" r="7.1" fill="#e8c158"/>
<circle cx="1793.5" cy="1730.2" r="7.1" fill="#e8c158"/>
<circle cx="1826.4" cy="1730.2" r="7.1" fill="#e8c158"/>
<circle cx="1859.3" cy="1730.2" r="7.1" fill="#e8c158"/>
<circle cx="1892.1" cy="1730.2" r="7.1" fill="#e8c158"/>
<circle cx="1957.9" cy="1377.0" r="7.1" fill="#e8c158"/>
<circle cx="1990.8" cy="1377.0" r="7.1" fill="#e8c158"/>
<circle cx="2023.6" cy="1377.0" r="7.1" fill="#e8c158"/>
<circle cx="2056.5" cy="1377.0" r="7.1" fill="#e8c158"/>
<path d="M1530.6,1730.2 L1563.4,1730.2 L1596.3,1730.2 L1629.2,1730.2 L1662.0,1730.2 L1694.9,1730.2 L1727.8,1730.2 L1760.7,1730.2 L1793.5,1730.2 L1826.4,1462.7 L1859.3,1476.0 L1892.1,1501.7 L1957.9,1483.4 L1990.8,1467.7 L2023.6,1446.5 L2056.5,1470.7" fill="none" stroke="#cc4046" stroke-width="4.2" stroke-linejoin="round"/>
<circle cx="1530.6" cy="1730.2" r="7.1" fill="#cc4046"/>
<circle cx="1563.4" cy="1730.2" r="7.1" fill="#cc4046"/>
<circle cx="1596.3" cy="1730.2" r="7.1" fill="#cc4046"/>
<circle cx="1629.2" cy="1730.2" r="7.1" fill="#cc4046"/>
<circle cx="1662.0" cy="1730.2" r="7.1" fill="#cc4046"/>
<circle cx="1694.9" cy="1730.2" r="7.1" fill="#cc4046"/>
<circle cx="1727.8" cy="1730.2" r="7.1" fill="#cc4046"/>
<circle cx="1760.7" cy="1730.2" r="7.1" fill="#cc4046"/>
<circle cx="1793.5" cy="1730.2" r="7.1" fill="#cc4046"/>
<circle cx="1826.4" cy="1462.7" r="7.1" fill="#cc4046"/>
<circle cx="1859.3" cy="1476.0" r="7.1" fill="#cc4046"/>
<circle cx="1892.1" cy="1501.7" r="7.1" fill="#cc4046"/>
<circle cx="1957.9" cy="1483.4" r="7.1" fill="#cc4046"/>
<circle cx="1990.8" cy="1467.7" r="7.1" fill="#cc4046"/>
<circle cx="2023.6" cy="1446.5" r="7.1" fill="#cc4046"/>
<circle cx="2056.5" cy="1470.7" r="7.1" fill="#cc4046"/>
<path d="M1530.6,1438.8 L1563.4,1404.9 L1596.3,1408.2 L1629.2,1434.1 L1662.0,1443.8 L1694.9,1434.8 L1727.8,1427.8 L1760.7,1422.2 L1793.5,1436.1 L1826.4,1447.1 L1859.3,1469.4 L1892.1,1497.7 L1957.9,1481.0 L1990.8,1465.4 L2023.6,1444.3 L2056.5,1466.7" fill="none" stroke="#4b9bd2" stroke-width="4.2" stroke-linejoin="round"/>
<circle cx="1530.6" cy="1438.8" r="7.1" fill="#4b9bd2"/>
<circle cx="1563.4" cy="1404.9" r="7.1" fill="#4b9bd2"/>
<circle cx="1596.3" cy="1408.2" r="7.1" fill="#4b9bd2"/>
<circle cx="1629.2" cy="1434.1" r="7.1" fill="#4b9bd2"/>
<circle cx="1662.0" cy="1443.8" r="7.1" fill="#4b9bd2"/>
<circle cx="1694.9" cy="1434.8" r="7.1" fill="#4b9bd2"/>
<circle cx="1727.8" cy="1427.8" r="7.1" fill="#4b9bd2"/>
<circle cx="1760.7" cy="1422.2" r="7.1" fill="#4b9bd2"/>
<circle cx="1793.5" cy="1436.1" r="7.1" fill="#4b9bd2"/>
<circle cx="1826.4" cy="1447.1" r="7.1" fill="#4b9bd2"/>
<circle cx="1859.3" cy="1469.4" r="7.1" fill="#4b9bd2"/>
<circle cx="1892.1" cy="1497.7" r="7.1" fill="#4b9bd2"/>
<circle cx="1957.9" cy="1481.0" r="7.1" fill="#4b9bd2"/>
<circle cx="1990.8" cy="1465.4" r="7.1" fill="#4b9bd2"/>
<circle cx="2023.6" cy="1444.3" r="7.1" fill="#4b9bd2"/>
<circle cx="2056.5" cy="1466.7" r="7.1" fill="#4b9bd2"/>
<path d="M1479.4,1243.8 L1479.4,1818.0" fill="none" stroke="#231f20" stroke-width="1.3" />
<path d="M1479.4,1817.8 L2057.0,1817.8" fill="none" stroke="#231f20" stroke-width="1.3" />
<path d="M1471.0,1289.0 L1479.4,1289.0" fill="none" stroke="#231f20" stroke-width="1.3" />
<text x="1457.0" y="1300.0" font-size="23" text-anchor="end" textLength="40.0" lengthAdjust="spacingAndGlyphs" >450</text>
<path d="M1471.0,1377.6 L1479.4,1377.6" fill="none" stroke="#231f20" stroke-width="1.3" />
<text x="1457.0" y="1388.6" font-size="23" text-anchor="end" textLength="40.0" lengthAdjust="spacingAndGlyphs" >400</text>
<path d="M1471.0,1465.7 L1479.4,1465.7" fill="none" stroke="#231f20" stroke-width="1.3" />
<text x="1457.0" y="1476.7" font-size="23" text-anchor="end" textLength="40.0" lengthAdjust="spacingAndGlyphs" >350</text>
<path d="M1471.0,1553.9 L1479.4,1553.9" fill="none" stroke="#231f20" stroke-width="1.3" />
<text x="1457.0" y="1564.9" font-size="23" text-anchor="end" textLength="40.0" lengthAdjust="spacingAndGlyphs" >300</text>
<path d="M1471.0,1641.7 L1479.4,1641.7" fill="none" stroke="#231f20" stroke-width="1.3" />
<text x="1457.0" y="1652.7" font-size="23" text-anchor="end" textLength="40.0" lengthAdjust="spacingAndGlyphs" >250</text>
<path d="M1471.0,1730.2 L1479.4,1730.2" fill="none" stroke="#231f20" stroke-width="1.3" />
<text x="1457.0" y="1741.2" font-size="23" text-anchor="end" textLength="40.0" lengthAdjust="spacingAndGlyphs" >200</text>
<path d="M1471.0,1818.0 L1479.4,1818.0" fill="none" stroke="#231f20" stroke-width="1.3" />
<text x="1457.0" y="1829.0" font-size="23" text-anchor="end" textLength="40.0" lengthAdjust="spacingAndGlyphs" >150</text>
<path d="M1497.7,1817.8 L1497.7,1826.0" fill="none" stroke="#231f20" stroke-width="1.3" />
<text x="1497.7" y="1856.0" font-size="23" text-anchor="middle" textLength="13.5" lengthAdjust="spacingAndGlyphs" >0</text>
<path d="M1563.4,1817.8 L1563.4,1826.0" fill="none" stroke="#231f20" stroke-width="1.3" />
<text x="1563.4" y="1856.0" font-size="23" text-anchor="middle" textLength="13.5" lengthAdjust="spacingAndGlyphs" >2</text>
<path d="M1629.2,1817.8 L1629.2,1826.0" fill="none" stroke="#231f20" stroke-width="1.3" />
<text x="1629.2" y="1856.0" font-size="23" text-anchor="middle" textLength="13.5" lengthAdjust="spacingAndGlyphs" >4</text>
<path d="M1694.9,1817.8 L1694.9,1826.0" fill="none" stroke="#231f20" stroke-width="1.3" />
<text x="1694.9" y="1856.0" font-size="23" text-anchor="middle" textLength="13.5" lengthAdjust="spacingAndGlyphs" >6</text>
<path d="M1760.7,1817.8 L1760.7,1826.0" fill="none" stroke="#231f20" stroke-width="1.3" />
<text x="1760.7" y="1856.0" font-size="23" text-anchor="middle" textLength="13.5" lengthAdjust="spacingAndGlyphs" >8</text>
<path d="M1826.4,1817.8 L1826.4,1826.0" fill="none" stroke="#231f20" stroke-width="1.3" />
<text x="1826.4" y="1856.0" font-size="23" text-anchor="middle" textLength="24.0" lengthAdjust="spacingAndGlyphs" >10</text>
<path d="M1892.1,1817.8 L1892.1,1826.0" fill="none" stroke="#231f20" stroke-width="1.3" />
<text x="1892.1" y="1856.0" font-size="23" text-anchor="middle" textLength="24.0" lengthAdjust="spacingAndGlyphs" >12</text>
<path d="M1957.9,1817.8 L1957.9,1826.0" fill="none" stroke="#231f20" stroke-width="1.3" />
<text x="1957.9" y="1856.0" font-size="23" text-anchor="middle" textLength="24.0" lengthAdjust="spacingAndGlyphs" >14</text>
<path d="M2023.6,1817.8 L2023.6,1826.0" fill="none" stroke="#231f20" stroke-width="1.3" />
<text x="2023.6" y="1856.0" font-size="23" text-anchor="middle" textLength="24.0" lengthAdjust="spacingAndGlyphs" >16</text>
<text x="1385" y="1659" font-size="28" transform="rotate(-90 1385 1659)" textLength="256" lengthAdjust="spacingAndGlyphs">Zinc dose (mcg kg<tspan font-size="17" dy="-10">−1</tspan><tspan dy="10">)</tspan></text>
<text x="1684.3" y="1910.8" font-size="28" textLength="155.0" lengthAdjust="spacingAndGlyphs" >Days on TPN</text>
<text x="1515.0" y="1324.7" font-size="28" textLength="428.8" lengthAdjust="spacingAndGlyphs" >All patient’s zinc dose distribution</text>
<path d="M1535.3,1329.7 L1535.3,1376.0" fill="none" stroke="#231f20" stroke-width="1.3" />
<rect x="1487.7" y="1471.0" width="133.1" height="70.0" fill="#b3cdec" />
<path d="M1530.7,1444.4 L1530.7,1471.0" fill="none" stroke="#231f20" stroke-width="1.3" />
<text x="1490.7" y="1496.0" font-size="28" textLength="95.0" lengthAdjust="spacingAndGlyphs" >TPN 2.0</text>
<text x="1490.7" y="1529.3" font-size="28" textLength="127.0" lengthAdjust="spacingAndGlyphs" >prediction</text>
<rect x="1640.4" y="1483.0" width="157.1" height="133.4" fill="#e8aa9f" fill-opacity="0.96"/>
<text x="1645.0" y="1507.7" font-size="28" textLength="95.0" lengthAdjust="spacingAndGlyphs" >TPN 2.0</text>
<text x="1645.0" y="1539.3" font-size="28" textLength="113.5" lengthAdjust="spacingAndGlyphs" >with 20%</text>
<text x="1645.0" y="1571.9" font-size="28" textLength="118.0" lengthAdjust="spacingAndGlyphs" >physician</text>
<text x="1645.0" y="1604.1" font-size="28" textLength="151.0" lengthAdjust="spacingAndGlyphs" >intervention</text>
<path d="M1797.5,1598.0 L1809.8,1598.0" fill="none" stroke="#231f20" stroke-width="1.3" />
<rect x="1939.5" y="1581.8" width="87.2" height="69.9" fill="#f3e3b5" fill-opacity="0.9"/>
<text x="1944.0" y="1608.5" font-size="28" textLength="79.5" lengthAdjust="spacingAndGlyphs" >Actual</text>
<text x="1944.0" y="1640.7" font-size="28" textLength="61.0" lengthAdjust="spacingAndGlyphs" >dose</text>
<path d="M1916.0,1599.8 L1939.5,1599.8" fill="none" stroke="#231f20" stroke-width="1.3" />
<rect x="1507.4" y="1709.0" width="44.9" height="44.8" fill="none" stroke="#231f20" stroke-width="2.2" />
<path d="M1530.6,1753.8 L1530.6,1769.4" fill="none" stroke="#231f20" stroke-width="1.3" />
<text x="1515.0" y="1793.5" font-size="28" textLength="420.8" lengthAdjust="spacingAndGlyphs" >Physician intervention timestamp</text>
</svg>
</body></html>
